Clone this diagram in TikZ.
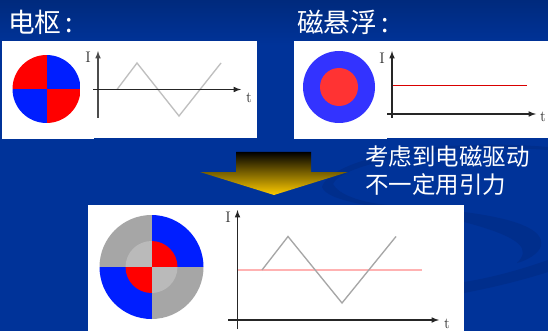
\documentclass[tikz,border=0pt]{standalone}
\usepackage{fontspec}
\newfontfamily\cjk{Noto Sans CJK SC}
\definecolor{slide}{RGB}{0,51,153}
\definecolor{slidetop}{RGB}{0,42,125}
\definecolor{swoosh}{RGB}{0,46,140}
\definecolor{gold}{RGB}{255,204,0}
\definecolor{coilred}{RGB}{255,0,0}
\definecolor{coilblue}{RGB}{0,30,255}
\definecolor{ringblue}{RGB}{51,51,255}
\definecolor{spotred}{RGB}{255,51,51}
\tikzset{
  title/.style={text=white, font=\cjk\fontsize{20pt}{23pt}\selectfont, inner sep=0pt, anchor=west},
  note/.style={text=white, font=\cjk\fontsize{17.6pt}{20.5pt}\selectfont, inner sep=0pt, anchor=west, align=left},
  panel/.style={fill=white},
  axis/.style={-latex, line width=0.9pt, black!85},
  wave/.style={line width=1pt, black!25},
  axlabel/.style={font=\fontsize{11.5pt}{11.5pt}\selectfont, text=black!80, inner sep=0pt}
}
\begin{document}
\begin{tikzpicture}[x=0.75pt,y=-0.75pt]
\useasboundingbox (0,0) rectangle (548,331);
\fill[slide] (0,0) rectangle (548,331);
\shade[top color=slidetop, bottom color=slide] (0,0) rectangle (548,45);
\fill[swoosh] (322,187) .. controls (330,160) and (430,137) .. (548,147) -- (548,150) .. controls (440,142) and (340,165) .. (333,184) .. controls (338,194) and (360,203) .. (390,205) -- (365,205) .. controls (340,200) and (325,195) .. (322,187) -- cycle;
\fill[swoosh] (464,212) .. controls (510,218) and (545,228) .. (541,246) .. controls (538,254) and (528,260) .. (517,263) .. controls (530,250) and (525,238) .. (464,222) -- cycle;
\fill[swoosh] (464,282) .. controls (490,278) and (520,270) .. (548,260) -- (548,272) .. controls (520,281) and (490,288) .. (464,293) -- cycle;

\node[title] (armorhead) at (8,22) {电枢\kern3pt:};
\node[title] (maglevhead) at (297,22) {磁悬浮\kern3pt:};
\node[note] (notetext) at (365,170.5) {考虑到电磁驱动\\不一定用引力};

\fill[panel] (2,41) rectangle (94,139);
\fill[panel] (94,41) rectangle (257,138);
\fill[panel] (294,41) rectangle (387,139);
\fill[panel] (387,41) rectangle (548,138);
\fill[panel] (88,205) rectangle (219,331);
\fill[panel] (219,205) rectangle (464,331);

\shade[top color=black, bottom color=gold]
  (236,152) -- (311,152) -- (311,172) -- (348,172) -- (274,195) -- (200,172) -- (236,172) -- cycle;

\begin{scope}
\clip (46.5,89) circle[radius=34];
\fill[coilred] (12,55) rectangle (46.5,89);
\fill[coilblue] (46.5,55) rectangle (81,89);
\fill[coilblue] (12,89) rectangle (46.5,124);
\fill[coilred] (46.5,89) rectangle (81,124);
\end{scope}

\fill[ringblue] (339,87) circle[radius=36];
\fill[spotred] (339,87) circle[radius=19];

\begin{scope}
\clip (151.5,267) circle[radius=52];
\fill[black!35] (99,215) rectangle (151.5,267);
\fill[coilblue] (151.5,215) rectangle (204,267);
\fill[coilblue] (99,267) rectangle (151.5,320);
\fill[black!35] (151.5,267) rectangle (204,320);
\end{scope}
\begin{scope}
\clip (151.5,267) circle[radius=26];
\fill[black!27] (125,241) rectangle (151.5,267);
\fill[coilred] (151.5,241) rectangle (178,267);
\fill[coilred] (125,267) rectangle (151.5,293);
\fill[black!27] (151.5,267) rectangle (178,293);
\end{scope}

\node[axlabel] (ia) at (88,57) {I};
\node[axlabel] (ta) at (249,98) {t};
\draw[wave] (117,89.5) -- (137,63) -- (179,116) -- (221,63);
\draw[axis, black!70] (98,118) -- (98,51);
\draw[axis] (93,89.5) -- (241,89.5);

\node[axlabel] (ib) at (382,58) {I};
\node[axlabel] (tb) at (543,117) {t};
\draw[coilred!85!black, line width=0.9pt] (392,85.5) -- (527,85.5);
\draw[axis] (392,118) -- (392,51);
\draw[axis] (387,114) -- (536,114);

\node[axlabel] (ic) at (228,217) {I};
\node[axlabel] (tc) at (447,324) {t};
\draw[coilred!30, line width=1.2pt] (238,270) -- (422,270);
\draw[wave, black!35] (262,270) -- (288,236.5) -- (342,303) -- (396,236.5);
\draw[axis] (237.5,329) -- (237.5,210);
\draw[axis] (228,320) -- (439,320);
\end{tikzpicture}
\end{document}
